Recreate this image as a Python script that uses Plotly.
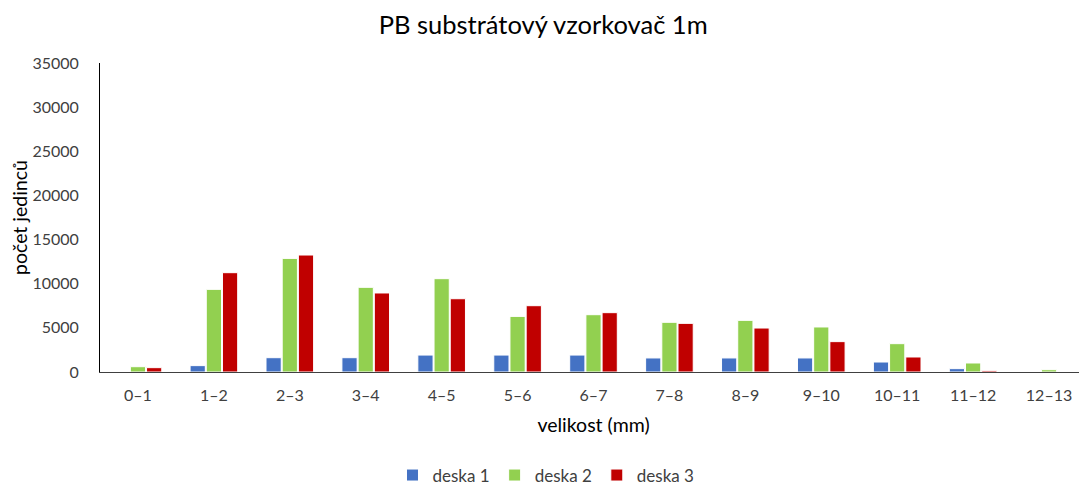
from plotly import graph_objects as go

kategorie = ['0–1', '1–2', '2–3', '3–4', '4–5', '5–6', '6–7',
             '7–8', '8–9', '9–10', '10–11', '11–12', '12–13']
deska_1 = [0, 720, 1620, 1620, 1920, 1920, 1920, 1590, 1590, 1590, 1130, 380, 0]
deska_2 = [600, 9360, 12870, 9590, 10570, 6300, 6490, 5630, 5850, 5100, 3210, 1020, 260]
deska_3 = [490, 11250, 13250, 8950, 8300, 7510, 6720, 5510, 4980, 3440, 1700, 150, 0]

barvy = {'deska 1': '#4472C4', 'deska 2': '#92D050', 'deska 3': '#C00000'}
font = 'Lato, Open Sans, sans-serif'


def crear_grafica_barras():
    fig = go.Figure()
    for nazev, hodnoty in [('deska 1', deska_1), ('deska 2', deska_2), ('deska 3', deska_3)]:
        fig.add_trace(go.Bar(x=kategorie, y=hodnoty, name=nazev,
                             marker_color=barvy[nazev],
                             marker_line=dict(color='white', width=1)))
    # stránka má okraj 8 px, proto je graf o 8 px menší
    fig.update_layout(
        title=dict(text='PB substrátový vzorkovač 1m', x=0.496, xref='container',
                   xanchor='center', y=0.9635, yref='container', yanchor='middle',
                   font=dict(family=font, size=25.5, color='#000000')),
        width=1079, height=478,
        margin=dict(l=92, r=0, t=55, b=114, autoexpand=False),
        plot_bgcolor='white', paper_bgcolor='white',
        barmode='group', bargap=0.36, bargroupgap=0.06,
        font=dict(family=font, size=16, color='#404040'),
        legend=dict(orientation='h', x=0.4986, xref='container', xanchor='center',
                    y=0.022, yref='container', yanchor='middle',
                    font=dict(family=font, size=17, color='#404040'),
                    itemwidth=30, tracegroupgap=0),
        showlegend=True,
    )
    fig.update_xaxes(showline=True, linecolor='#404040', linewidth=1,
                     showgrid=False, ticks='', automargin=False,
                     ticklabelstandoff=9,
                     tickfont=dict(size=16, color='#404040'),
                     title=dict(text='velikost (mm)', standoff=15,
                                font=dict(size=19.5, color='#000000')))
    fig.update_yaxes(range=[0, 35000], dtick=5000, tickformat='d', showline=True,
                     linecolor='#000000', linewidth=1, showgrid=False,
                     ticks='', ticklabelstandoff=17, automargin=False,
                     tickfont=dict(size=16, color='#404040'),
                     title=dict(text='počet jedinců', standoff=0,
                                font=dict(size=19.5, color='#000000')))
    return fig


fig = crear_grafica_barras()
fig.write_html("out.html")
